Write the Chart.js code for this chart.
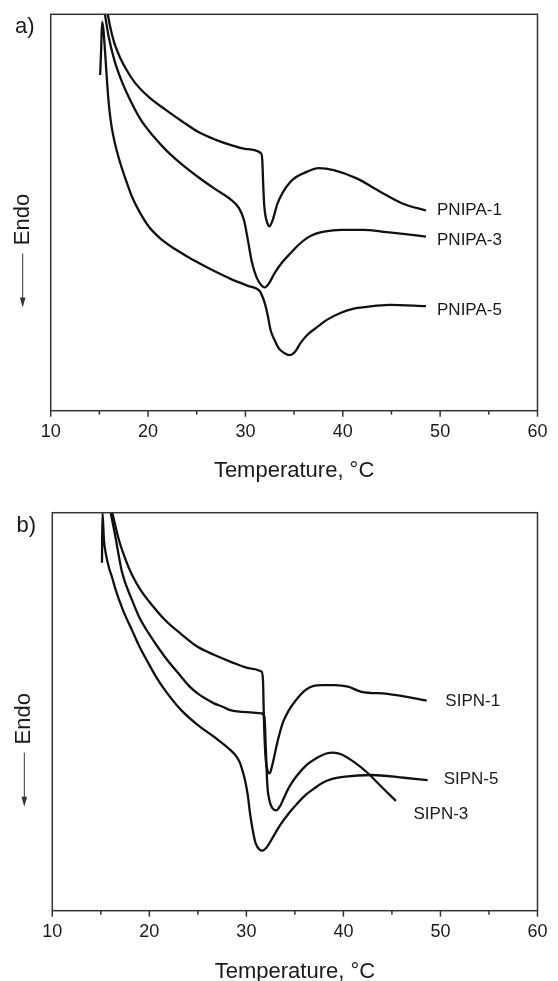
<!DOCTYPE html>
<html><head><meta charset="utf-8">
<script src="https://cdn.jsdelivr.net/npm/chart.js@4/dist/chart.umd.min.js"></script>
<style>
html,body{margin:0;padding:0;background:#fff;overflow:hidden;width:558px;height:981px;}
canvas{position:absolute;left:0;}
#ca{top:0;} #cb{top:490px;}
</style></head><body>
<canvas id="ca" width="558" height="490"></canvas>
<canvas id="cb" width="558" height="500"></canvas>
<script>
// ---------- data (temperature in °C, heat flow in arbitrary units, endo down) ----------
const xTicks = [10, 20, 30, 40, 50, 60];
const xTitle = 'Temperature, °C';
const yTitle = 'Endo';

const pnipa1T = [15.87,16.13,16.53,17.14,17.86,18.67,20.09,21.82,23.44,25.17,26.9,28.53,30.07,31.58,31.73,31.83,31.93,32.08,32.29,32.46,32.8,33.3,34.65,36.35,37.54,39.06,41.43,43.8,46.18,48.55];
const pnipa1V = [100,96.6,92.8,89.0,85.7,82.7,79.1,75.9,73.1,70.3,68.4,67.0,66.0,65.0,63.3,56.9,51.9,48.9,47.1,46.5,48.1,52.3,57.8,60.3,61.2,60.7,58.6,55.3,52.2,50.5];

const pnipa3T = [15.57,15.92,16.53,17.25,18.16,19.28,20.6,21.82,23.44,25.17,26.9,28.53,29.34,29.85,30.25,30.66,31.17,31.68,31.98,32.39,33.0,33.8,34.63,35.44,36.35,37.17,38.08,39.9,42.14,43.97,45.5,48.55];
const pnipa3V = [100,94.8,88.5,83.4,78.4,73.3,69.1,65.8,62.2,58.9,55.9,53.2,51.1,48.1,43.1,37.5,33.5,31.5,31.1,32.0,34.7,37.5,39.7,41.8,43.6,44.6,45.2,45.6,45.6,45.2,44.8,43.9];

const pnipa5T = [15.08,15.18,15.28,15.42,15.57,15.72,15.87,16.03,16.28,16.64,17.04,17.65,18.36,19.18,20.09,21.19,22.43,23.75,25.17,26.9,28.53,30.25,31.47,31.68,31.98,32.29,32.59,33.0,33.41,34.02,34.53,35.14,35.64,36.35,37.37,38.49,39.7,41.03,42.45,44.79,48.55];
const pnipa5V = [84.7,91.0,98.1,96.1,91.0,85.5,80.2,75.9,71.3,67.0,63.3,58.7,53.9,49.9,46.4,43.6,41.3,39.3,37.3,35.1,33.2,31.5,30.2,29.2,27.2,24.1,20.3,17.8,15.8,14.5,14.0,15.0,17.0,19.1,21.1,23.1,24.6,25.7,26.2,26.7,26.4];

const sipn1T = [16.18,16.86,17.57,18.21,19.09,20.10,21.59,23.28,24.97,26.66,28.34,30.37,31.55,31.71,31.81,31.96,32.16,32.40,32.67,33.25,33.78,34.39,35.1,36.11,36.93,37.81,39.15,40.47,41.86,44.53,48.58];
const sipn1V = [100,93.2,88.1,84.4,80.6,77.3,73.1,69.5,66.3,64.3,62.6,60.9,60.1,58.0,47.9,39.1,35.4,34.5,36.6,42.9,47.4,50.4,52.9,55.5,56.5,56.7,56.7,56.3,55.0,54.5,52.8];

const sipn3T = [16.02,16.46,17.2,18.21,18.99,19.9,21.59,23.28,24.16,24.97,25.78,26.66,27.5,28.34,30.03,31.55,31.86,32.01,32.16,32.36,32.67,33.07,33.48,33.88,34.42,35.1,36.11,37.43,38.24,38.95,39.76,41.18,42.5,43.89,45.41];
const sipn3V = [100,94.5,84.9,78.1,73.6,69.8,63.8,58.8,56.3,54.6,53.3,52.1,51.3,50.4,49.9,49.6,48.7,40.4,31.6,27.9,25.8,25.2,26.3,28.4,31.1,33.6,36.4,38.6,39.5,39.7,39.3,37.2,34.6,31.2,27.6];

const sipn5T = [15.12,15.17,15.32,15.54,15.85,16.18,16.53,17.27,18.21,18.99,19.9,20.71,21.59,23.28,24.97,26.66,28.34,29.02,29.36,29.63,29.86,30.14,30.37,30.71,30.95,31.38,31.65,32.06,32.74,33.48,34.42,35.2,36.11,36.93,37.81,38.85,40.17,42.87,46.25,48.68];
const sipn5V = [87.4,100,93.2,89.4,86.1,83.6,80.6,75.6,70.5,66.3,62.2,58.7,55.5,50.4,46.7,43.7,40.4,38.6,37.0,34.9,32.8,29.1,24.6,19.5,17.0,15.3,15.1,15.8,18.5,21.5,24.6,26.8,29.1,30.6,32.1,33.1,33.7,34.1,33.4,32.8];

const panelA = [
  {name: 'PNIPA-1', T: pnipa1T, V: pnipa1V},
  {name: 'PNIPA-3', T: pnipa3T, V: pnipa3V},
  {name: 'PNIPA-5', T: pnipa5T, V: pnipa5V}
];
const panelB = [
  {name: 'SIPN-1', T: sipn1T, V: sipn1V},
  {name: 'SIPN-3', T: sipn3T, V: sipn3V},
  {name: 'SIPN-5', T: sipn5T, V: sipn5V}
];

// ---------- drawing ----------
const FONT = '"Liberation Sans", Arial, Helvetica, sans-serif';
const INK = '#1a1a1a';

const framePlugin = {
  id: 'frame',
  afterDraw(chart, args, opts) {
    const ctx = chart.ctx, a = chart.chartArea, xs = chart.scales.x, ys = chart.scales.y;
    ctx.save();
    ctx.strokeStyle = '#333';
    ctx.lineWidth = 1.5;
    ctx.strokeRect(a.left, a.top, a.right - a.left, a.bottom - a.top);
    for (let t = xs.min; t <= xs.max + 1e-9; t += 5) {
      const px = xs.getPixelForValue(t);
      const len = (Math.round(t) % 10 === 0) ? 6 : 4;
      ctx.beginPath();
      ctx.moveTo(px, a.bottom);
      ctx.lineTo(px, a.bottom + len);
      ctx.stroke();
    }
    ctx.fillStyle = INK;
    ctx.font = '17px ' + FONT;
    ctx.textAlign = 'left';
    ctx.textBaseline = 'middle';
    chart.data.datasets.forEach((ds, i) => {
      const last = ds.data[ds.data.length - 1];
      const off = opts.offsets[i];
      ctx.fillText(ds.label, xs.getPixelForValue(last.x) + off[0], ys.getPixelForValue(last.y) + off[1]);
    });
    ctx.font = '22px ' + FONT;
    ctx.textBaseline = 'alphabetic';
    ctx.fillText(opts.letter, a.left - 35.7, a.top + 19);
    const cy = (a.top + a.bottom) / 2;
    const ex = a.left - 28;
    ctx.save();
    ctx.translate(ex, cy + 7);
    ctx.rotate(-Math.PI / 2);
    ctx.textAlign = 'center';
    ctx.textBaseline = 'middle';
    ctx.fillText(yTitle, 0, 0);
    ctx.restore();
    ctx.strokeStyle = '#333';
    ctx.lineWidth = 1;
    ctx.beginPath();
    ctx.moveTo(ex, cy + 41);
    ctx.lineTo(ex, cy + 86);
    ctx.stroke();
    ctx.fillStyle = '#333';
    ctx.beginPath();
    ctx.moveTo(ex - 2.8, cy + 85);
    ctx.lineTo(ex + 2.8, cy + 85);
    ctx.lineTo(ex, cy + 95);
    ctx.closePath();
    ctx.fill();
    ctx.restore();
  }
};

function pts(T, V) { return T.map((t, i) => ({x: t, y: V[i]})); }

function makeChart(id, series, pad, axisH, letter, offsets) {
  return new Chart(document.getElementById(id), {
    type: 'line',
    data: {
      datasets: series.map(s => ({
        label: s.name,
        data: pts(s.T, s.V),
        borderColor: '#111',
        borderWidth: 2.3,
        pointRadius: 0,
        fill: false,
        cubicInterpolationMode: 'monotone'
      }))
    },
    options: {
      responsive: false,
      animation: false,
      devicePixelRatio: 1,
      layout: {padding: pad},
      plugins: {
        legend: {display: false},
        tooltip: {enabled: false},
        frame: {letter: letter, offsets: offsets}
      },
      scales: {
        x: {
          type: 'linear',
          min: xTicks[0],
          max: xTicks[xTicks.length - 1],
          afterBuildTicks: s => { s.ticks = xTicks.map(v => ({value: v})); },
          ticks: {padding: 10.5, color: INK, font: {family: FONT, size: 18}, maxRotation: 0, autoSkip: false},
          grid: {display: false, drawTicks: false},
          border: {display: false},
          title: {display: true, text: xTitle, color: INK, font: {family: FONT, size: 22, lineHeight: 1.2}, padding: 0},
          afterFit: s => { s.height = axisH; }
        },
        y: {display: false, min: 0, max: 100}
      }
    },
    plugins: [framePlugin]
  });
}

makeChart('ca', panelA, {left: 50.7, top: 14.3, right: 15.3, bottom: 6.3}, 73, 'a)',
  [[11, 0], [11, 4], [11, 4]]);
makeChart('cb', panelB, {left: 52.3, top: 22.7, right: 12.3, bottom: 5.1}, 74.2, 'b)',
  [[18.7, 1], [17.6, 13.4], [16, -1]]);
</script></body></html>
